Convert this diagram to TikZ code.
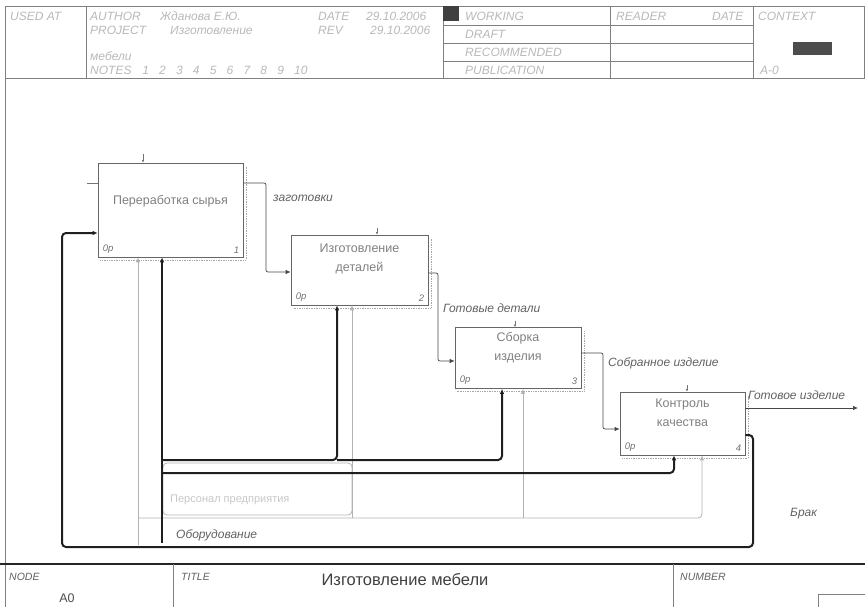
\documentclass[tikz,border=0pt]{standalone}
\usepackage{fontspec}
\setmainfont{Liberation Sans}
\usetikzlibrary{arrows.meta}
\begin{document}
\begin{tikzpicture}[x=1pt,y=-1pt,
  hdr/.style={font=\fontsize{12}{14}\selectfont\itshape, text=black!28, anchor=base west, inner sep=0pt},
  hline/.style={draw=black!50, line width=0.6pt},
  boxfn/.style={draw=black!60, line width=0.7pt, fill=white, inner sep=0pt},
  boxtxt/.style={font=\fontsize{12.5}{19}\selectfont, text=black!50, align=center, inner sep=0pt},
  corner/.style={font=\fontsize{9.5}{10}\selectfont\itshape, text=black!55, inner sep=0pt},
  lbl/.style={font=\fontsize{12}{13}\selectfont\itshape, text=black!62, anchor=base west, inner sep=0pt},
  conn/.style={draw=black!72, line width=0.7pt, rounded corners=2pt},
  heavy/.style={draw=black!88, line width=2pt, rounded corners=4pt},
  pale/.style={draw=black!30, line width=0.8pt, rounded corners=4pt},
  shade/.style={draw=black!35, densely dotted, line width=0.7pt},
  tip/.style={-{Latex[length=5pt,width=4.5pt]}},
  stub/.style={draw=black!55, line width=0.6pt, -{Latex[length=2.5pt,width=2.5pt]}},
]
\useasboundingbox (0,0) rectangle (865,607);

% ---------------- header ----------------
\draw[hline] (5,6) rectangle (864,78);
\draw[hline] (86,6) -- (86,78);
\draw[hline] (443,6) -- (443,78);
\draw[hline] (610,6) -- (610,78);
\draw[hline] (753,6) -- (753,78);
\draw[hline] (443,25) -- (753,25);
\draw[hline] (443,43) -- (753,43);
\draw[hline] (443,61) -- (753,61);
\fill[black!75] (443,6) rectangle (459,21);
\fill[black!70] (793,42) rectangle (832,55);

\node[hdr] (usedat) at (10,21) {USED AT};
\node[hdr] (author) at (90,21) {AUTHOR};
\node[hdr] (authorv) at (160,21) {Жданова Е.Ю.};
\node[hdr] (date) at (318,21) {DATE};
\node[hdr] (datev) at (366,21) {29.10.2006};
\node[hdr] (project) at (90,35) {PROJECT};
\node[hdr] (projectv) at (170,35) {Изготовление};
\node[hdr] (rev) at (318,35) {REV};
\node[hdr] (revv) at (370,35) {29.10.2006};
\node[hdr] (projectv2) at (90,61) {мебели};
\node[hdr] (notes) at (90,75) {NOTES\hspace{0.9em}1\hspace{0.85em}2\hspace{0.85em}3\hspace{0.85em}4\hspace{0.85em}5\hspace{0.85em}6\hspace{0.85em}7\hspace{0.85em}8\hspace{0.85em}9\hspace{0.85em}10};
\node[hdr] (working) at (465,21) {WORKING};
\node[hdr] (draft) at (465,39) {DRAFT};
\node[hdr] (recom) at (465,57) {RECOMMENDED};
\node[hdr] (publ) at (465,75) {PUBLICATION};
\node[hdr] (reader) at (616,21) {READER};
\node[hdr] (rdate) at (712,21) {DATE};
\node[hdr] (context) at (758,21) {CONTEXT};
\node[hdr] (ctxnode) at (760,75) {A-0};

% frame
\draw[hline] (5,78) -- (5,607);

% ---------------- bottom bar ----------------
\draw[draw=black!85, line width=1.1pt] (0,564) -- (865,564);
\draw[hline] (173,564) -- (173,607);
\draw[hline] (673,564) -- (673,607);
\draw[hline] (818,594) -- (865,594);
\draw[hline] (818,594) -- (818,607);
\node[hdr, font=\fontsize{10.5}{12}\selectfont\itshape, text=black!62] (nodelbl) at (9,580) {NODE};
\node[hdr, font=\fontsize{10.5}{12}\selectfont\itshape, text=black!62] (titlelbl) at (181,580) {TITLE};
\node[hdr, font=\fontsize{10.5}{12}\selectfont\itshape, text=black!62] (numlbl) at (680,580) {NUMBER};
\node[font=\fontsize{16.5}{18}\selectfont, text=black!75, inner sep=0pt] (title) at (405,580) {Изготовление мебели};
\node[font=\fontsize{12.5}{14}\selectfont, text=black!70, inner sep=0pt] (a0) at (67,598) {A0};

% ---------------- function boxes ----------------
\node[boxfn, minimum width=145pt, minimum height=94pt] (b1) at (170.5,210) {};
\node[boxfn, minimum width=137pt, minimum height=70pt] (b2) at (359.5,270) {};
\node[boxfn, minimum width=126pt, minimum height=61pt] (b3) at (518,358) {};
\node[boxfn, minimum width=125pt, minimum height=63pt] (b4) at (682.5,423.5) {};

% shadows
\draw[shade] ([xshift=2.5pt,yshift=-4pt]b1.north east) -- ([xshift=2.5pt,yshift=-2.5pt]b1.south east) -- ([xshift=2pt,yshift=-2.5pt]b1.south west);
\draw[shade] ([xshift=2.5pt,yshift=-4pt]b2.north east) -- ([xshift=2.5pt,yshift=-2.5pt]b2.south east) -- ([xshift=2pt,yshift=-2.5pt]b2.south west);
\draw[shade] ([xshift=2.5pt,yshift=-4pt]b3.north east) -- ([xshift=2.5pt,yshift=-2.5pt]b3.south east) -- ([xshift=2pt,yshift=-2.5pt]b3.south west);
\draw[shade] ([xshift=2.5pt,yshift=-4pt]b4.north east) -- ([xshift=2.5pt,yshift=-2.5pt]b4.south east) -- ([xshift=2pt,yshift=-2.5pt]b4.south west);

\node[boxtxt] (b1t) at (170.5,201) {Переработка сырья};
\node[boxtxt] (b2t) at (359.5,259) {Изготовление\\деталей};
\node[boxtxt] (b3t) at (518,348) {Сборка\\изделия};
\node[boxtxt] (b4t) at (682.5,413) {Контроль\\качества};

\node[corner, anchor=south west] (b1c) at ([xshift=5pt,yshift=4pt]b1.south west) {0р};
\node[corner, anchor=south east] (b1n) at ([xshift=-4pt,yshift=4pt]b1.south east) {1};
\node[corner, anchor=south west] (b2c) at ([xshift=5pt,yshift=4pt]b2.south west) {0р};
\node[corner, anchor=south east] (b2n) at ([xshift=-4pt,yshift=4pt]b2.south east) {2};
\node[corner, anchor=south west] (b3c) at ([xshift=5pt,yshift=4pt]b3.south west) {0р};
\node[corner, anchor=south east] (b3n) at ([xshift=-4pt,yshift=4pt]b3.south east) {3};
\node[corner, anchor=south west] (b4c) at ([xshift=5pt,yshift=4pt]b4.south west) {0р};
\node[corner, anchor=south east] (b4n) at ([xshift=-4pt,yshift=4pt]b4.south east) {4};

% small control stubs above boxes
\coordinate (t1) at (143,154);
\coordinate (t2) at (377,228);
\coordinate (t3) at (515,321);
\coordinate (t4) at (687,385);
\draw[stub] (t1) -- (t1 |- b1.north);
\draw[stub] (t2) -- (t2 |- b2.north);
\draw[stub] (t3) -- (t3 |- b3.north);
\draw[stub] (t4) -- (t4 |- b4.north);
\coordinate (t0) at (87,183);
\draw[draw=black!55, line width=0.6pt] (t0) -- (t0 -| b1.west);

% ---------------- coordinates for connectors ----------------
\coordinate (o1) at (266,183);
\coordinate (i2) at (266,272);
\coordinate (o2) at (438,273);
\coordinate (i3) at (438,361);
\coordinate (o3) at (603,353);
\coordinate (i4) at (603,429);
\coordinate (o4) at (858,408);
\coordinate (k1) at (753,435);
\coordinate (k2) at (753,547);
\coordinate (k3) at (62,547);
\coordinate (k4) at (62,233);

% flows
\draw[conn,tip] (o1 -| b1.east) -- (o1) -- (i2) -- (i2 -| b2.west);
\draw[conn,tip] (o2 -| b2.east) -- (o2) -- (i3) -- (i3 -| b3.west);
\draw[conn,tip] (o3 -| b3.east) -- (o3) -- (i4) -- (i4 -| b4.west);
\draw[conn,tip] (o4 -| b4.east) -- (o4);

\node[lbl] (lzag) at (273,201) {заготовки};
\node[lbl] (lgot) at (443,312) {Готовые детали};
\node[lbl] (lsob) at (608,366) {Собранное изделие};
\node[lbl] (lgiz) at (748,399) {Готовое изделие};
\node[lbl] (lbrak) at (790,516) {Брак};

% personnel (pale)
\coordinate (p0) at (138,545);
\coordinate (p1) at (138,518);
\coordinate (p2) at (352,518);
\coordinate (p3) at (523,518);
\coordinate (p4) at (702,518);
\draw[pale,tip] (p0) -- (p0 |- b1.south);
\draw[pale,tip] (p1) -- (p4) -- (p4 |- b4.south);
\draw[pale,tip] (p3) -- (p3 |- b3.south);
\draw[pale,tip] (p2) -- (p2 |- b2.south);
\draw[pale] (163,463) rectangle (352,515);
\node[font=\fontsize{11}{12}\selectfont, text=black!22, anchor=base west, inner sep=0pt] (lpers) at (170,502) {Персонал предприятия};

% equipment (heavy)
\coordinate (m0) at (162,543);
\coordinate (m1) at (162,460);
\coordinate (m2) at (337,460);
\coordinate (m3) at (502,460);
\coordinate (m4) at (162,473);
\coordinate (m5) at (674,473);
\draw[heavy,tip] (m0) -- (m0 |- b1.south);
\draw[heavy,tip] (m1) -- (m2) -- (m2 |- b2.south);
\draw[heavy,tip] (m2) -- (m3) -- (m3 |- b3.south);
\draw[heavy,tip] (m4) -- (m5) -- (m5 |- b4.south);
\node[lbl] (lobor) at (176,538) {Оборудование};

% reject loop
\draw[heavy,tip] (k1 -| b4.east) -- (k1) -- (k2) -- (k3) -- (k4) -- (k4 -| b1.west);

\end{tikzpicture}
\end{document}
